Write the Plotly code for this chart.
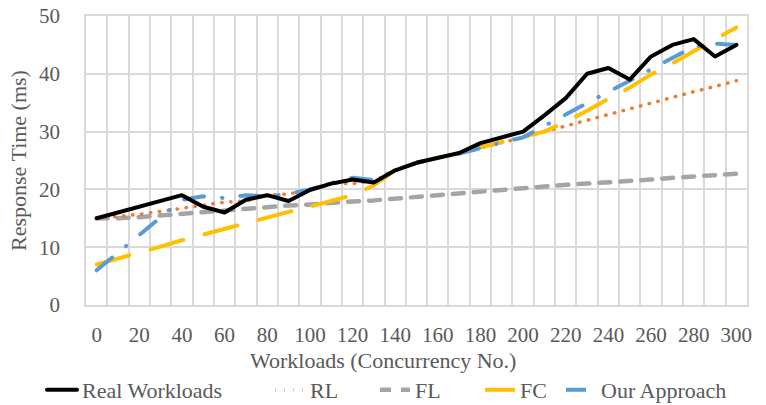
import plotly.graph_objects as go

# ---- data ----
workloads = [0, 10, 20, 30, 40, 50, 60, 70, 80, 90, 100, 110, 120, 130, 140, 150,
             160, 170, 180, 190, 200, 210, 220, 230, 240, 250, 260, 270, 280, 290, 300]
tick_labels = [0, 20, 40, 60, 80, 100, 120, 140, 160, 180, 200, 220, 240, 260, 280, 300]

real_workloads = [15, 16, 17, 18, 19, 17, 16, 18.2, 19, 18, 19.9, 21, 21.7, 21.2, 23.3, 24.6,
                  25.5, 26.3, 28, 29, 30, 32.8, 35.8, 40, 41, 39, 43, 45, 46, 43, 45]
rl = [15, 15.3, 15.7, 16.2, 16.7, 17.2, 17.8, 18, 19, 19.2, 20, 21.1, 21, 21.5, 23.2, 24.5,
      25.5, 26.2, 27.2, 28.1, 29, 30, 31, 32, 33, 34, 35, 35.9, 36.9, 37.8, 38.8]
fl = [15, 15, 15.2, 15.5, 15.8, 16, 16.3, 16.6, 16.9, 17.2, 17.4, 17.7, 17.9, 18.1, 18.4, 18.7,
      19.1, 19.4, 19.7, 19.9, 20.2, 20.5, 20.8, 21.0, 21.2, 21.5, 21.7, 22.0, 22.2, 22.5, 22.7]
fc = [7, 8, 9.1, 10.1, 11.2, 12.2, 13.2, 14.2, 15.2, 16.1, 17.0, 18.0, 19.0, 20.7, 23.3, 24.6,
      25.5, 26.2, 27.3, 28.2, 29.1, 30.0, 31.7, 33.6, 35.7, 37.6, 39.9, 41.8, 43.9, 46.0, 48.0]
our_approach = [6, 9, 12, 15.2, 18.2, 18.8, 18.5, 19, 18.8, 19.2, 20, 21.1, 22, 21.6, 23.3, 24.6,
                25.5, 26.2, 27.2, 28.1, 29, 31, 32.9, 35, 36.9, 38.8, 40.8, 42.7, 44.7, 45.2, 45]

series_names = ["Real Workloads", "RL", "FL", "FC", "Our Approach"]

# ---- styles ----
FONT = "Liberation Serif"
TXT = "#595959"
GRID = "#D9D9D9"

styles = [
    dict(color="#000000", width=4, dash="solid"),
    dict(color="#ED7D31", width=3.5, dash="0.5px,8.5px"),
    dict(color="#A5A5A5", width=4.5, dash="11px,10px"),
    dict(color="#FFC000", width=4, dash="34px,22px"),
    dict(color="#5B9BD5", width=4, dash="20px,18px,0.5px,18px"),
]
series_values = [real_workloads, rl, fl, fc, our_approach]
legend_ids = ["legend", "legend2", "legend3", "legend4", "legend5"]
legend_x_px = [42, 270, 375, 480, 561]

fig = go.Figure()
order = [2, 1, 3, 4, 0]
for i in order:
    fig.add_trace(go.Scatter(
        x=workloads, y=series_values[i], mode="lines", name=series_names[i],
        line=styles[i], legend=legend_ids[i], showlegend=True,
    ))

W, H = 766, 405
ML, MR, MT, MB = 86, 19, 16, 100

minor_grid = [v - 5 for v in workloads] + [305]

fig.update_layout(
    width=W, height=H,
    margin=dict(l=ML, r=MR, t=MT, b=MB, autoexpand=False),
    paper_bgcolor="white", plot_bgcolor="white",
    font=dict(family=FONT, color=TXT, size=21),
    xaxis=dict(
        range=[-5, 305], tickmode="array", tickvals=tick_labels,
        ticktext=[str(t) for t in tick_labels],
        showgrid=False, zeroline=False, ticks="", automargin=False,
        ticklabelstandoff=10,
        tickfont=dict(family=FONT, size=21, color=TXT),
        minor=dict(tickmode="array", tickvals=minor_grid, showgrid=True,
                   gridcolor=GRID, gridwidth=1.5, ticks=""),
        showline=True, mirror=True, linecolor=GRID, linewidth=1.5,
    ),
    yaxis=dict(
        range=[0, 50], dtick=10, tick0=0, automargin=False,
        showgrid=True, gridcolor=GRID, gridwidth=1.5, zeroline=False, ticks="",
        ticklabelstandoff=20,
        tickfont=dict(family=FONT, size=21, color=TXT),
        title=dict(text="Response Time (ms)", font=dict(family=FONT, size=22, color=TXT),
                   standoff=6),
        showline=True, mirror=True, linecolor=GRID, linewidth=1.5,
    ),
    annotations=[dict(
        text="Workloads (Concurrency No.)", xref="paper", yref="paper",
        x=(383 - ML) / (W - ML - MR), y=-(360 - (H - MB)) / (H - MT - MB),
        xanchor="center", yanchor="middle", showarrow=False,
        font=dict(family=FONT, size=22, color=TXT),
    )],
)

for lid, px in zip(legend_ids, legend_x_px):
    fig.update_layout({lid: dict(
        orientation="h", xref="container", yref="container",
        x=px / W, y=1 - 390 / H, xanchor="left", yanchor="middle",
        font=dict(family=FONT, size=22, color=TXT),
        bgcolor="rgba(0,0,0,0)", borderwidth=0,
    )})

post = """
document.body.style.margin='0';
var s=document.createElement('style');
s.innerHTML='body{margin:0;} .scatterlayer .js-line, .legend .js-line{stroke-linecap:round;stroke-linejoin:round;}';
document.head.appendChild(s);
"""
fig.write_html("out.html", post_script=post, config={"displayModeBar": False})
